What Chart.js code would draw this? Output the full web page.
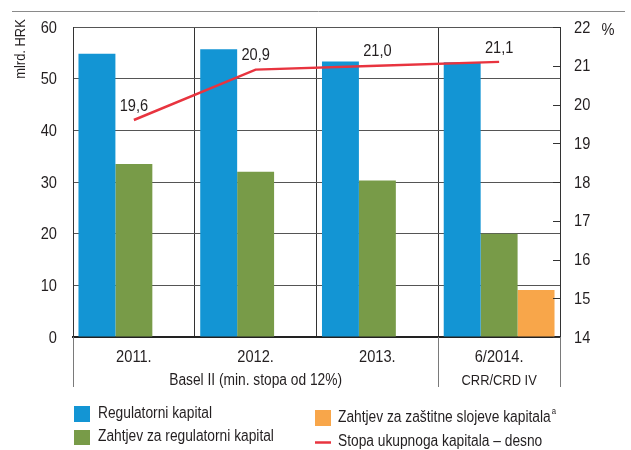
<!DOCTYPE html>
<html>
<head>
<meta charset="utf-8">
<script src="https://cdn.jsdelivr.net/npm/chart.js@4/dist/chart.umd.min.js"></script>
<style>
  html, body { margin: 0; padding: 0; background: #fff; }
  #wrap { width: 631px; height: 450px; }
</style>
</head>
<body>
<div id="wrap"><canvas id="chart" width="631" height="450"></canvas></div>
<script>
// categories and series
const years = ['2011.', '2012.', '2013.', '6/2014.'];
const regCapital = [54.8, 55.7, 53.3, 53.2];
const regRequirement = [33.5, 32.0, 30.3, 20.0];
const bufferRequirement = [null, null, null, 9.1];
const totalCapitalRate = [19.6, 20.9, 21.0, 21.1];

// tick labels
const leftTicks = [0, 10, 20, 30, 40, 50, 60];
const rightTicks = [14, 15, 16, 17, 18, 19, 20, 21, 22];

const FONT = "'Liberation Sans', Arial, sans-serif";
const TEXT = '#231f20';
const SQUEEZE = 0.86; // narrow look for all text

const BLUE = '#1395d4';
const GREEN = '#789b48';
const ORANGE = '#f8a64a';
const RED = '#e8343f';

Chart.defaults.font.family = FONT;
Chart.defaults.color = TEXT;

// condensed text helper, returns drawn width
function txt(ctx, s, x, y, size, align) {
  ctx.save();
  ctx.font = size + 'px ' + FONT;
  ctx.fillStyle = TEXT;
  ctx.textBaseline = 'middle';
  ctx.textAlign = align || 'center';
  ctx.translate(x, y);
  ctx.scale(SQUEEZE, 1);
  ctx.fillText(s, 0, 0);
  const w = ctx.measureText(s).width * SQUEEZE;
  ctx.restore();
  return w;
}

// labels above the line, axis texts, group captions and legend
const extras = {
  id: 'extras',
  afterDatasetsDraw(chart) {
    const ctx = chart.ctx;
    chart.getDatasetMeta(3).data.forEach((pt, i) => {
      txt(ctx, totalCapitalRate[i].toFixed(1).replace('.', ','), pt.x, pt.y - 14, 17);
    });
  },
  afterDraw(chart) {
    const ctx = chart.ctx;
    const area = chart.chartArea;
    const x = chart.scales.x;
    const y = chart.scales.y;
    const y2 = chart.scales.y2;
    ctx.save();

    // rule across the top
    ctx.strokeStyle = '#8a8a8a';
    ctx.lineWidth = 1;
    ctx.beginPath();
    ctx.moveTo(12, 11.5);
    ctx.lineTo(625, 11.5);
    ctx.stroke();

    // short inward ticks on the right axis
    ctx.strokeStyle = '#333';
    rightTicks.forEach(v => {
      const py = Math.round(y2.getPixelForValue(v)) + 0.5;
      ctx.beginPath();
      ctx.moveTo(area.right - 7, py);
      ctx.lineTo(area.right, py);
      ctx.stroke();
    });

    // separators below the axis
    const bound = (i) => (x.getPixelForValue(i) + x.getPixelForValue(i + 1)) / 2;
    const seps = [area.left, bound(2), area.right];
    ctx.strokeStyle = '#7a7a7a';
    seps.forEach(sx => {
      const px = Math.round(sx) + 0.5;
      ctx.beginPath();
      ctx.moveTo(px, area.bottom);
      ctx.lineTo(px, area.bottom + 50);
      ctx.stroke();
    });
    ctx.restore();

    // axis numbers
    leftTicks.forEach(v => txt(ctx, String(v), 57, y.getPixelForValue(v) + 1, 17, 'right'));
    rightTicks.forEach(v => txt(ctx, String(v), 574, y2.getPixelForValue(v) + 1, 17, 'left'));
    years.forEach((s, i) => txt(ctx, s, x.getPixelForValue(i), 357, 17));

    // group captions
    txt(ctx, 'Basel II (min. stopa od 12%)', (area.left + bound(2)) / 2, 381, 16);
    txt(ctx, 'CRR/CRD IV', x.getPixelForValue(3), 381, 15);

    // unit labels
    txt(ctx, '%', 608, 30, 17);
    ctx.save();
    ctx.translate(20.5, 49);
    ctx.rotate(-Math.PI / 2);
    txt(ctx, 'mlrd. HRK', 0, 0, 15);
    ctx.restore();

    // legend
    ctx.save();
    ctx.fillStyle = BLUE;
    ctx.fillRect(74, 406, 16, 16);
    ctx.fillStyle = GREEN;
    ctx.fillRect(74, 430, 16, 15);
    ctx.fillStyle = ORANGE;
    ctx.fillRect(315, 410, 16, 16);
    ctx.strokeStyle = RED;
    ctx.lineWidth = 2.5;
    ctx.beginPath();
    ctx.moveTo(315, 442.5);
    ctx.lineTo(331, 442.5);
    ctx.stroke();
    ctx.restore();

    txt(ctx, 'Regulatorni kapital', 98, 414, 16, 'left');
    txt(ctx, 'Zahtjev za regulatorni kapital', 98, 437, 16, 'left');
    const w = txt(ctx, 'Zahtjev za zaštitne slojeve kapitala', 338, 418, 16, 'left');
    txt(ctx, 'a', 338 + w + 1, 412, 9, 'left');
    txt(ctx, 'Stopa ukupnoga kapitala – desno', 338, 442, 16, 'left');
  }
};

new Chart(document.getElementById('chart'), {
  data: {
    labels: years,
    datasets: [
      {
        type: 'bar',
        label: 'Regulatorni kapital',
        data: regCapital,
        backgroundColor: BLUE,
        yAxisID: 'y',
        order: 2
      },
      {
        type: 'bar',
        label: 'Zahtjev za regulatorni kapital',
        data: regRequirement,
        backgroundColor: GREEN,
        yAxisID: 'y',
        order: 2
      },
      {
        type: 'bar',
        label: 'Zahtjev za zaštitne slojeve kapitala',
        data: bufferRequirement,
        backgroundColor: ORANGE,
        yAxisID: 'y',
        order: 2
      },
      {
        type: 'line',
        label: 'Stopa ukupnoga kapitala – desno',
        data: totalCapitalRate,
        borderColor: RED,
        borderWidth: 2.5,
        pointRadius: 0,
        tension: 0,
        yAxisID: 'y2',
        order: 1
      }
    ]
  },
  options: {
    responsive: false,
    animation: false,
    datasets: {
      bar: { categoryPercentage: 0.91, barPercentage: 1, grouped: true }
    },
    layout: { padding: { top: 27, bottom: 0, left: 0, right: 0 } },
    plugins: {
      legend: { display: false },
      tooltip: { enabled: false }
    },
    scales: {
      x: {
        offset: true,
        grid: { offset: true, color: '#333', lineWidth: 1, drawTicks: false },
        border: { color: '#222', width: 2 },
        ticks: { display: false },
        afterFit: (s) => { s.height = 113; }
      },
      y: {
        position: 'left',
        min: 0,
        max: 60,
        afterBuildTicks: (s) => { s.ticks = leftTicks.map(v => ({ value: v })); },
        grid: { color: '#555', lineWidth: 1, drawTicks: false },
        border: { color: '#333', width: 1 },
        ticks: { display: false },
        afterFit: (s) => { s.width = 73; }
      },
      y2: {
        position: 'right',
        min: 14,
        max: 22,
        afterBuildTicks: (s) => { s.ticks = rightTicks.map(v => ({ value: v })); },
        grid: { drawOnChartArea: false, drawTicks: false },
        border: { color: '#333', width: 1 },
        ticks: { display: false },
        afterFit: (s) => { s.width = 71; }
      }
    }
  },
  plugins: [extras]
});
</script>
</body>
</html>
